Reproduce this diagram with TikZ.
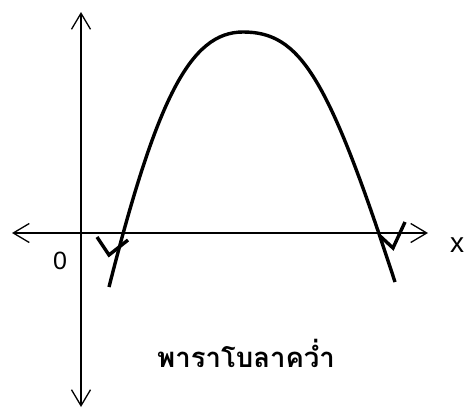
\documentclass[tikz,border=0pt]{standalone}
\usepackage{fontspec}
\setmainfont{Liberation Sans}
\newfontfamily\thaifont[Script=Thai]{Loma}
\usepackage{tikz}
\usetikzlibrary{arrows.meta}

\begin{document}
\begin{tikzpicture}[x=1pt, y=-1pt, >={Straight Barb[length=16pt,width=19pt]}]
\tikzstyle{axis}=[line width=1.3pt, <->]
\tikzstyle{curve}=[line width=3.4pt, line cap=butt]
\tikzstyle{tick}=[line width=3.4pt, line join=miter]
\tikzstyle{lbl}=[inner sep=0pt]
\useasboundingbox (0,0) rectangle (464,408);

\coordinate (ytop) at (81,12);
\coordinate (ybot) at (81,407);
\coordinate (xleft) at (12,233);
\coordinate (xright) at (428,233);
\draw[axis] (ybot) -- (ytop);
\draw[axis] (xleft) -- (xright);

\node[lbl, font=\fontsize{28}{32}\selectfont] (xname) at (457,245) {x};
\node[lbl, font=\fontsize{25}{30}\selectfont] (origin) at (60,261) {0};
\node[lbl, font=\thaifont\bfseries\fontsize{27.5}{32}\selectfont] (title) at (246,353) {พาราโบลาคว่ำ};

\coordinate (lend) at (109,287);
\coordinate (peak) at (243,32);
\coordinate (rend) at (395,282);
\draw[curve] (lend) .. controls (156.6,99.4) and (190,32) .. (peak)
  .. controls (300,32) and (327.8,75.6) .. (rend);

\draw[tick] (97,237) -- (109,255) -- (128,240);
\draw[tick] (380,236) -- (393,248) -- (405,222);
\end{tikzpicture}
\end{document}
